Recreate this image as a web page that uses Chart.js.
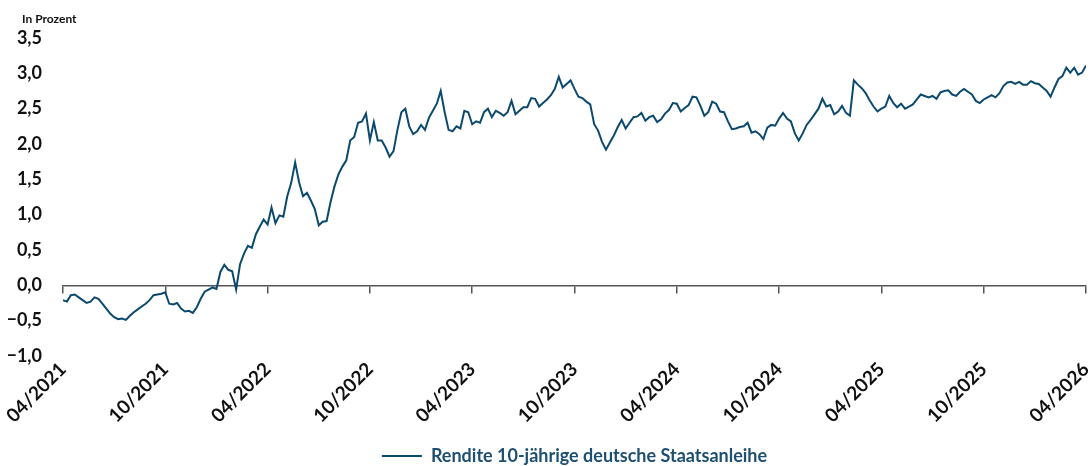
<!DOCTYPE html>
<html lang="de">
<head>
    <meta charset="UTF-8">
    <title>Rendite 10-jährige deutsche Staatsanleihe</title>
    <script src="https://cdn.jsdelivr.net/npm/chart.js"></script>
    <style>
        html, body {
            margin: 0;
            background: #fff;
        }
    </style>
</head>
<body>
    <canvas id="yieldChart" width="1092" height="466"></canvas>

    <script>
        // x axis: months since 04/2021, one label every 6 months
        const tickLabels = ['04/2021', '10/2021', '04/2022', '10/2022', '04/2023', '10/2023',
                            '04/2024', '10/2024', '04/2025', '10/2025', '04/2026'];
        const seriesLabel = 'Rendite 10-jährige deutsche Staatsanleihe';

        // roughly weekly readings, 04/2021 .. 04/2026, in percent
        const yieldValues = [
            -0.21, -0.23, -0.14, -0.13, -0.17, -0.21, -0.25, -0.23, -0.17, -0.19,
            -0.26, -0.33, -0.40, -0.45, -0.48, -0.47, -0.49, -0.43, -0.38, -0.34,
            -0.30, -0.26, -0.21, -0.14, -0.13, -0.12, -0.10, -0.26, -0.27, -0.25,
            -0.33, -0.37, -0.36, -0.39, -0.31, -0.19, -0.09, -0.06, -0.03, -0.05,
            0.19, 0.29, 0.22, 0.20, -0.06, 0.30, 0.45, 0.56, 0.53, 0.72,
            0.83, 0.93, 0.86, 1.10, 0.88, 0.99, 0.97, 1.26, 1.45, 1.74,
            1.46, 1.26, 1.31, 1.20, 1.08, 0.85, 0.90, 0.91, 1.18, 1.40,
            1.57, 1.68, 1.77, 2.05, 2.10, 2.30, 2.32, 2.43, 2.05, 2.31,
            2.05, 2.05, 1.95, 1.82, 1.90, 2.20, 2.45, 2.50, 2.25, 2.14,
            2.18, 2.27, 2.20, 2.37, 2.47, 2.57, 2.75, 2.45, 2.20, 2.18,
            2.25, 2.22, 2.47, 2.45, 2.28, 2.32, 2.30, 2.45, 2.50, 2.38,
            2.47, 2.44, 2.40, 2.45, 2.61, 2.42, 2.47, 2.52, 2.52, 2.65,
            2.64, 2.53, 2.58, 2.63, 2.69, 2.78, 2.95, 2.80, 2.85, 2.90,
            2.78, 2.67, 2.65, 2.60, 2.56, 2.28, 2.19, 2.03, 1.92, 2.02,
            2.12, 2.24, 2.34, 2.22, 2.30, 2.38, 2.39, 2.44, 2.33, 2.38,
            2.40, 2.31, 2.35, 2.43, 2.48, 2.58, 2.57, 2.46, 2.51, 2.55,
            2.67, 2.66, 2.54, 2.40, 2.45, 2.60, 2.57, 2.46, 2.45, 2.32,
            2.21, 2.22, 2.24, 2.25, 2.30, 2.16, 2.18, 2.14, 2.07, 2.23,
            2.27, 2.26, 2.36, 2.44, 2.36, 2.32, 2.15, 2.05, 2.15, 2.27,
            2.34, 2.42, 2.50, 2.64, 2.53, 2.55, 2.42, 2.46, 2.54, 2.44,
            2.40, 2.90, 2.84, 2.79, 2.72, 2.62, 2.53, 2.46, 2.50, 2.53,
            2.68, 2.58, 2.52, 2.57, 2.50, 2.53, 2.56, 2.63, 2.70, 2.68,
            2.66, 2.68, 2.64, 2.73, 2.75, 2.76, 2.70, 2.68, 2.74, 2.78,
            2.74, 2.70, 2.61, 2.58, 2.63, 2.66, 2.69, 2.66, 2.72, 2.82,
            2.87, 2.88, 2.85, 2.88, 2.84, 2.84, 2.89, 2.86, 2.85, 2.80,
            2.75, 2.67, 2.80, 2.92, 2.96, 3.08, 3.01, 3.08, 2.98, 3.01,
            3.11
        ];

        const lineColor = '#0b4a6e';
        const totalMonths = 60;

        let points = yieldValues.map((v, i) => ({
            x: i * totalMonths / (yieldValues.length - 1),
            y: v
        }));

        // "In Prozent" above the y axis
        const unitLabel = {
            id: 'unitLabel',
            afterDraw(chart) {
                const c = chart.ctx;
                c.save();
                c.font = 'bold 12px Lato';
                c.fillStyle = '#111';
                c.textBaseline = 'alphabetic';
                c.fillText('In Prozent', 22, 23);
                c.restore();
            }
        };

        let ctx = document.getElementById('yieldChart').getContext('2d');
        let chart = new Chart(ctx, {
            type: 'line',
            data: {
                datasets: [{
                    label: seriesLabel,
                    data: points,
                    borderColor: lineColor,
                    backgroundColor: lineColor,
                    borderWidth: 2,
                    pointRadius: 0,
                    tension: 0
                }]
            },
            options: {
                responsive: false,
                animation: false,
                layout: {
                    autoPadding: false,
                    padding: { top: 38, left: 8, right: 6, bottom: -9 }
                },
                scales: {
                    x: {
                        type: 'linear',
                        position: 'bottom',
                        min: 0,
                        max: totalMonths,
                        grid: { display: false, drawTicks: false },
                        border: { display: false },
                        afterFit: (scale) => {
                            scale.height = 81;
                            // rotated labels end at the tick, no room needed on the sides
                            scale.paddingLeft = 0;
                            scale.paddingRight = 0;
                        },
                        ticks: {
                            stepSize: 6,
                            autoSkip: false,
                            maxRotation: 45,
                            minRotation: 45,
                            padding: 2,
                            color: '#111',
                            font: { family: 'Lato', weight: 'bold', size: 19 },
                            callback: (value) => tickLabels[Math.round(value / 6)]
                        }
                    },
                    // zero line with the small tick marks
                    xZero: {
                        type: 'linear',
                        position: { y: 0 },
                        min: 0,
                        max: totalMonths,
                        grid: {
                            drawOnChartArea: false,
                            drawTicks: true,
                            tickLength: 7,
                            color: '#555',
                            lineWidth: 1.5
                        },
                        border: { display: true, color: '#555', width: 1.5 },
                        ticks: { stepSize: 6, autoSkip: false, display: false }
                    },
                    y: {
                        min: -1,
                        max: 3.5,
                        grid: { display: false, drawTicks: false },
                        border: { display: false },
                        afterFit: (scale) => { scale.width = 55; },
                        ticks: {
                            stepSize: 0.5,
                            padding: 21,
                            color: '#111',
                            font: { family: 'Lato', weight: 'bold', size: 18 },
                            callback: (value) => value.toFixed(1).replace('.', ',').replace('-', '\u2212')
                        }
                    }
                },
                plugins: {
                    legend: {
                        position: 'bottom',
                        fullSize: false,
                        labels: {
                            usePointStyle: true,
                            pointStyle: 'line',
                            pointStyleWidth: 40,
                            color: '#1d4f73',
                            padding: 10,
                            font: { family: 'Lato', weight: 'bold', size: 18 }
                        }
                    },
                    tooltip: { enabled: false }
                }
            },
            plugins: [unitLabel]
        });
    </script>
</body>
</html>
